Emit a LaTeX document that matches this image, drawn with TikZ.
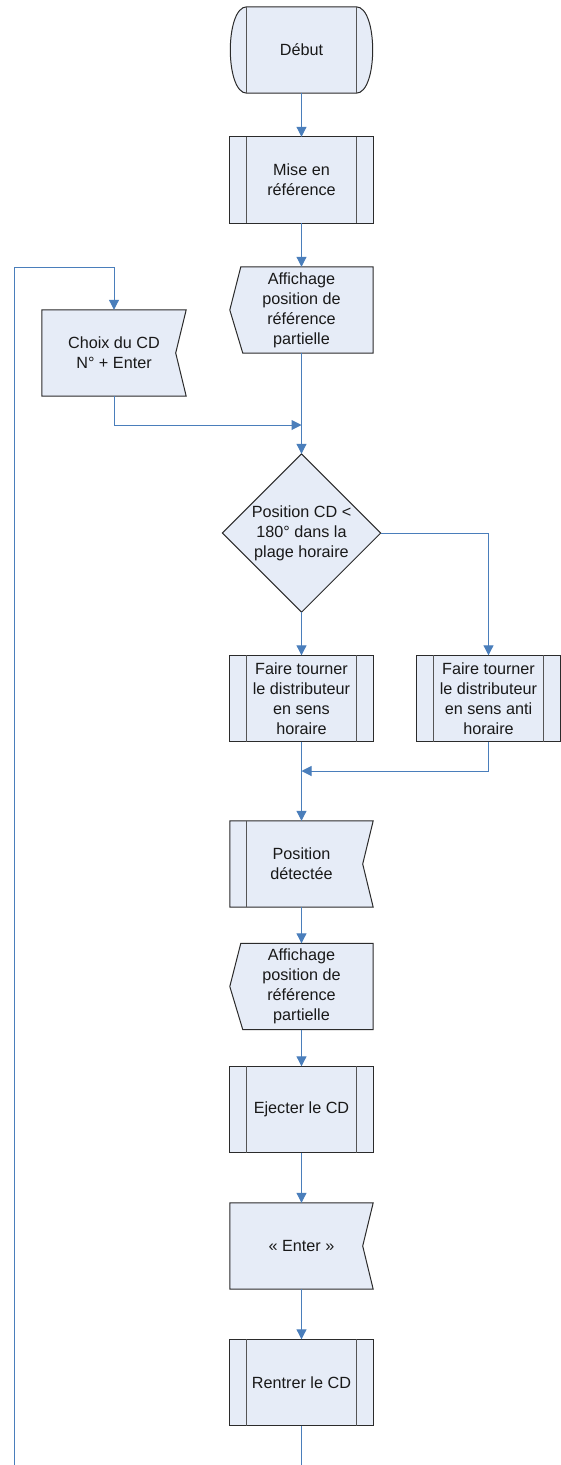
\documentclass[tikz,border=0pt]{standalone}
\usepackage{fontspec}
\setmainfont{Liberation Sans}
\usetikzlibrary{calc,arrows.meta}
\definecolor{boxfill}{HTML}{E6ECF7}
\definecolor{flow}{HTML}{4A7EBB}
\definecolor{edge}{HTML}{2B2B2B}
\pgfdeclarelayer{bg}
\pgfsetlayers{bg,main}
\begin{document}
\begin{tikzpicture}[x=1pt,y=-1pt,
  txt/.style={minimum width=143pt,minimum height=86pt,inner sep=0pt,align=center,
              text=black!90,font=\fontsize{16.2}{20}\selectfont},
  outline/.style={fill=boxfill,draw=edge,line width=1pt,line join=miter},
  innerline/.style={draw=edge!80,line width=1pt},
  flowline/.style={draw=flow,line width=1pt},
  arr/.style={flowline,-{Triangle[length=10pt,width=10pt]}}]

\useasboundingbox (0,0) rectangle (560,1465);

% ---------- text nodes ----------
\node[txt] (deb)   at (301.5,50)    {Début};
\node[txt] (ref)   at (301.5,180)   {Mise en\\référence};
\node[txt] (aff1)  at (301.5,310)   {Affichage\\position de\\référence\\partielle};
\node[txt,minimum width=144pt] (choix) at (114,353) {Choix du CD\\N° + Enter};
\node[txt,minimum width=158pt,minimum height=158pt] (dec) at (301.5,533)
      {Position CD <\\180° dans la\\plage horaire};
\node[txt] (hor)   at (301.5,698.5) {Faire tourner\\le distributeur\\en sens\\horaire};
\node[txt] (anti)  at (488.5,698.5) {Faire tourner\\le distributeur\\en sens anti\\horaire};
\node[txt] (det)   at (301.5,864)   {Position\\détectée};
\node[txt] (aff2)  at (301.5,986.5) {Affichage\\position de\\référence\\partielle};
\node[txt] (ej)    at (301.5,1109.5){Ejecter le CD};
\node[txt] (enter) at (301.5,1246)  {« Enter »};
\node[txt] (rent)  at (301.5,1382.5){Rentrer le CD};

% ---------- shapes (background) ----------
\begin{pgfonlayer}{bg}
  % terminator
  \path[outline] ($(deb.north west)+(17,0)$) -- ($(deb.north east)+(-17,0)$)
     .. controls ($(deb.north east)+(5,0)$) and ($(deb.south east)+(5,0)$) .. ($(deb.south east)+(-17,0)$)
     -- ($(deb.south west)+(17,0)$)
     .. controls ($(deb.south west)+(-5,0)$) and ($(deb.north west)+(-5,0)$) .. cycle;
  \draw[innerline] ($(deb.north west)+(17,0)$) -- ($(deb.south west)+(17,0)$);
  \draw[innerline] ($(deb.north east)+(-17,0)$) -- ($(deb.south east)+(-17,0)$);
  % predefined processes
  \foreach \n in {ref,hor,anti,ej,rent}{
    \path[outline] (\n.north west) rectangle (\n.south east);
    \draw[innerline] ($(\n.north west)+(17,0)$) -- ($(\n.south west)+(17,0)$);
    \draw[innerline] ($(\n.north east)+(-17,0)$) -- ($(\n.south east)+(-17,0)$);
  }
  % displays
  \foreach \n in {aff1,aff2}{
    \path[outline] ($(\n.north west)+(11,0)$) -- (\n.north east) -- (\n.south east)
       -- ($(\n.south west)+(13,0)$) -- (\n.west) -- cycle;
  }
  % notched cards
  \foreach \n in {choix,det,enter}{
    \path[outline] (\n.north west) -- (\n.north east) -- ($(\n.east)+(-10.5,0)$)
       -- (\n.south east) -- (\n.south west) -- cycle;
  }
  \draw[innerline] ($(det.north west)+(17,0)$) -- ($(det.south west)+(17,0)$);
  % decision
  \path[outline] (dec.north) -- (dec.east) -- (dec.south) -- (dec.west) -- cycle;
\end{pgfonlayer}

% ---------- connectors ----------
\coordinate (m1) at (301.5,425);
\coordinate (m2) at (301.5,771);
\coordinate (lt) at (14,267);
\coordinate (lb) at (14,1465);
\coordinate (bot) at (301.5,1465);

\draw[arr] (deb.south) -- (ref.north);
\draw[arr] (ref.south) -- (aff1.north);
\draw[arr] (aff1.south) -- (dec.north);
\draw[arr] (choix.south) |- (m1);
\draw[arr] (lb) -- (lt) -| (choix.north);
\draw[arr] (dec.south) -- (hor.north);
\draw[arr] (dec.east) -| (anti.north);
\draw[arr] (hor.south) -- (det.north);
\draw[arr] (anti.south) |- (m2);
\draw[arr] (det.south) -- (aff2.north);
\draw[arr] (aff2.south) -- (ej.north);
\draw[arr] (ej.south) -- (enter.north);
\draw[arr] (enter.south) -- (rent.north);
\draw[flowline] (rent.south) -- (bot);
\end{tikzpicture}
\end{document}
